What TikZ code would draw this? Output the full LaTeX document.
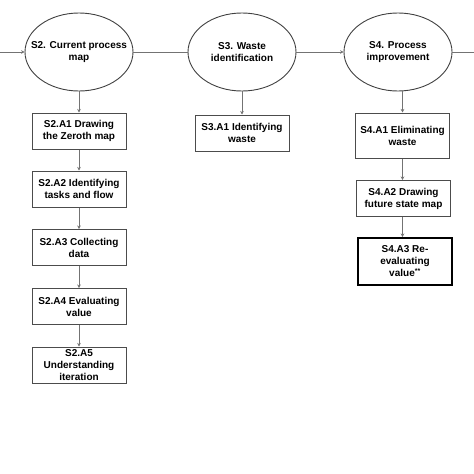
\documentclass[tikz,border=0pt]{standalone}
\usepackage{fontspec}
\setmainfont{Liberation Sans}
\usetikzlibrary{shapes.geometric,arrows.meta}

\begin{document}
\begin{tikzpicture}[x=1pt,y=-1pt,font=\bfseries\fontsize{10}{12}\selectfont]

      \useasboundingbox (0,0) rectangle (474,474);

      \begin{scope}[every node/.style={ellipse,draw=black!75,line width=0.9pt,minimum width=108pt,minimum height=78pt,align=center,inner xsep=-22pt,inner ysep=-4pt}]
        \node (s2) at (79,52)  {S2. Current process\\map};
        \node (s3) at (242,52) {S3. Waste\\identification};
        \node (s4) at (398,52) {S4. Process\\improvement};
      \end{scope}

      \begin{scope}[every node/.style={rectangle,draw=black!70,line width=1pt,minimum width=94pt,minimum height=36pt,align=center,inner sep=1pt}]
        \node (s2a1) at (79,131)   {S2.A1 Drawing\\the Zeroth map};
        \node (s2a2) at (79,189)   {S2.A2 Identifying\\tasks and flow};
        \node (s2a3) at (79,247.5) {S2.A3 Collecting\\data};
        \node (s2a4) at (79,306.5) {S2.A4 Evaluating\\value};
        \node (s2a5) at (79,365)   {S2.A5\\Understanding\\iteration};
        \node (s3a1) at (242,133)  {S3.A1 Identifying\\waste};
        \node[minimum height=45pt] (s4a1) at (402.5,135.5) {S4.A1 Eliminating\\waste};
        \node (s4a2) at (403.5,198.5) {S4.A2 Drawing\\future state map};
        \node[draw=black,line width=2pt,minimum height=47pt] (s4a3) at (405,261.5) {S4.A3 Re-\\evaluating\\value\textsuperscript{**}};
      \end{scope}

      \coordinate (in)  at (0,52);
      \coordinate (out) at (474,52);

      \begin{scope}[every edge/.style={draw=black!55,line width=0.7pt}]
        \path (s2.east) edge (s3.west);
        \path (s4.east) edge (out);
      \end{scope}

      \begin{scope}[every edge/.style={draw=black!55,line width=0.7pt,-{Stealth[length=3.5pt,width=3.5pt]}}]
        \path (in)  edge (s2.west);
        \path (s3.east) edge (s4.west);
        \path (s2.south) edge (s2a1.north);
        \path (s2a1) edge (s2a2);
        \path (s2a2) edge (s2a3);
        \path (s2a3) edge (s2a4);
        \path (s2a4) edge (s2a5);
        \path (s3.south) edge (s3a1.north);
        \path (s4.south -| s4a1.north) edge (s4a1.north);
        \path (s4a1.south) edge (s4a1.south |- s4a2.north);
        \path (s4a2.south -| s4a1.south) edge (s4a1.south |- s4a3.north);
      \end{scope}

    \end{tikzpicture}
\end{document}
